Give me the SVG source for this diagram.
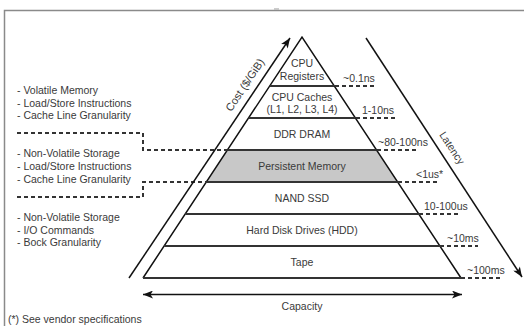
<svg xmlns="http://www.w3.org/2000/svg" width="524" height="326" viewBox="0 0 524 326">
  <defs>
    <marker id="arrow" viewBox="0 0 10 8" markerUnits="userSpaceOnUse" markerWidth="11" markerHeight="8" refX="10" refY="4" orient="auto-start-reverse">
      <path d="M0,0 L10,4 L0,8 L2.5,4 z" fill="#111"/>
    </marker>
    <style>
      text { font-family: "Liberation Sans", Arial, sans-serif; font-size: 10.5px; fill: #3a3a3a; }
      .mid { text-anchor: middle; }
      .frame { stroke: #8a8a8a; stroke-width: 1.5; fill: none; }
      .edge { stroke: #111; stroke-width: 1.5; fill: none; }
      .level { stroke: #333; stroke-width: 2; fill: none; }
      .dash { stroke: #333; stroke-width: 2; fill: none; stroke-dasharray: 4 3; }
      .axis { stroke: #111; stroke-width: 1.5; fill: none; marker-end: url(#arrow); }
    </style>
  </defs>

  <rect width="524" height="326" fill="#fff"/>

  <!-- outer frame -->
  <path class="frame" d="M4.5,326 V10.5 H524"/>
  <line x1="274" y1="9" x2="279" y2="9" stroke="#bbb" stroke-width="1.5"/>

  <!-- pyramid tiers -->
  <g id="tier-persistent-memory-band">
    <polygon points="227.4,150 376.6,150 397.7,182 206.3,182" fill="#c8c8c8"/>
  </g>

  <g id="pyramid-outline">
    <polyline class="edge" points="143,278 302,37 461,278"/>
  </g>

  <g id="tier-registers">
    <line class="level" x1="269.7" y1="86" x2="334.3" y2="86"/>
    <text class="mid" x="302" y="67">CPU</text>
    <text class="mid" x="302" y="80">Registers</text>
  </g>
  <g id="tier-caches">
    <line class="level" x1="248.6" y1="118" x2="355.4" y2="118"/>
    <text class="mid" x="302" y="101">CPU Caches</text>
    <text class="mid" x="302" y="113">(L1, L2, L3, L4)</text>
  </g>
  <g id="tier-dram">
    <line class="level" x1="227.4" y1="150" x2="376.6" y2="150"/>
    <text class="mid" x="302" y="138">DDR DRAM</text>
  </g>
  <g id="tier-persistent-memory">
    <line class="level" x1="206.3" y1="182" x2="397.7" y2="182"/>
    <text class="mid" x="302" y="170">Persistent Memory</text>
  </g>
  <g id="tier-nand">
    <line class="level" x1="185.2" y1="214" x2="418.8" y2="214"/>
    <text class="mid" x="302" y="202">NAND SSD</text>
  </g>
  <g id="tier-hdd">
    <line class="level" x1="164.1" y1="246" x2="439.9" y2="246"/>
    <text class="mid" x="302" y="234">Hard Disk Drives (HDD)</text>
  </g>
  <g id="tier-tape">
    <line class="level" x1="143" y1="278" x2="461" y2="278"/>
    <text class="mid" x="302" y="266">Tape</text>
  </g>

  <!-- latency marks -->
  <g id="latency-marks">
    <line class="dash" x1="335" y1="86" x2="374" y2="86"/>
    <text x="343" y="82">~0.1ns</text>
    <line class="dash" x1="356" y1="118" x2="395" y2="118"/>
    <text x="362" y="114">1-10ns</text>
    <line class="dash" x1="377" y1="150" x2="418" y2="150"/>
    <text x="378" y="146">~80-100ns</text>
    <line class="dash" x1="398" y1="182" x2="438" y2="182"/>
    <text x="416" y="178">&lt;1us*</text>
    <line class="dash" x1="419" y1="214" x2="459" y2="214"/>
    <text x="424" y="210">10-100us</text>
    <line class="dash" x1="440" y1="246" x2="478" y2="246"/>
    <text x="447" y="242">~10ms</text>
    <line class="dash" x1="461" y1="278" x2="500" y2="278"/>
    <text x="467" y="274">~100ms</text>
  </g>

  <!-- class descriptions on the left -->
  <g id="class-volatile">
    <text x="17" y="94">- Volatile Memory</text>
    <text x="17" y="107">- Load/Store Instructions</text>
    <text x="17" y="119">- Cache Line Granularity</text>
  </g>
  <g id="class-persistent">
    <text x="17" y="157">- Non-Volatile Storage</text>
    <text x="17" y="170">- Load/Store Instructions</text>
    <text x="17" y="183">- Cache Line Granularity</text>
  </g>
  <g id="class-storage">
    <text x="17" y="221">- Non-Volatile Storage</text>
    <text x="17" y="234">- I/O Commands</text>
    <text x="17" y="246">- Bock Granularity</text>
  </g>

  <!-- connectors: class dividers and axes -->
  <g id="connectors">
    <path class="dash" d="M17,133 H143 V150 H227"/>
    <path class="dash" d="M17,197 H143 V182 H206"/>
    <line id="cost-axis" class="axis" x1="129" y1="278" x2="290" y2="38"/>
    <line id="latency-axis" class="axis" x1="366" y1="38" x2="522" y2="277"/>
    <line id="capacity-axis" class="axis" x1="143" y1="294.5" x2="462" y2="294.5" marker-start="url(#arrow)"/>
  </g>

  <!-- axis labels -->
  <text class="mid" font-size="11" transform="translate(248,87) rotate(-56.5)" style="font-size:11px">Cost ($/GiB)</text>
  <text class="mid" transform="translate(449,150) rotate(56.7)">Latency</text>
  <text class="mid" x="302" y="310">Capacity</text>

  <text x="8" y="323">(*) See vendor specifications</text>
</svg>
